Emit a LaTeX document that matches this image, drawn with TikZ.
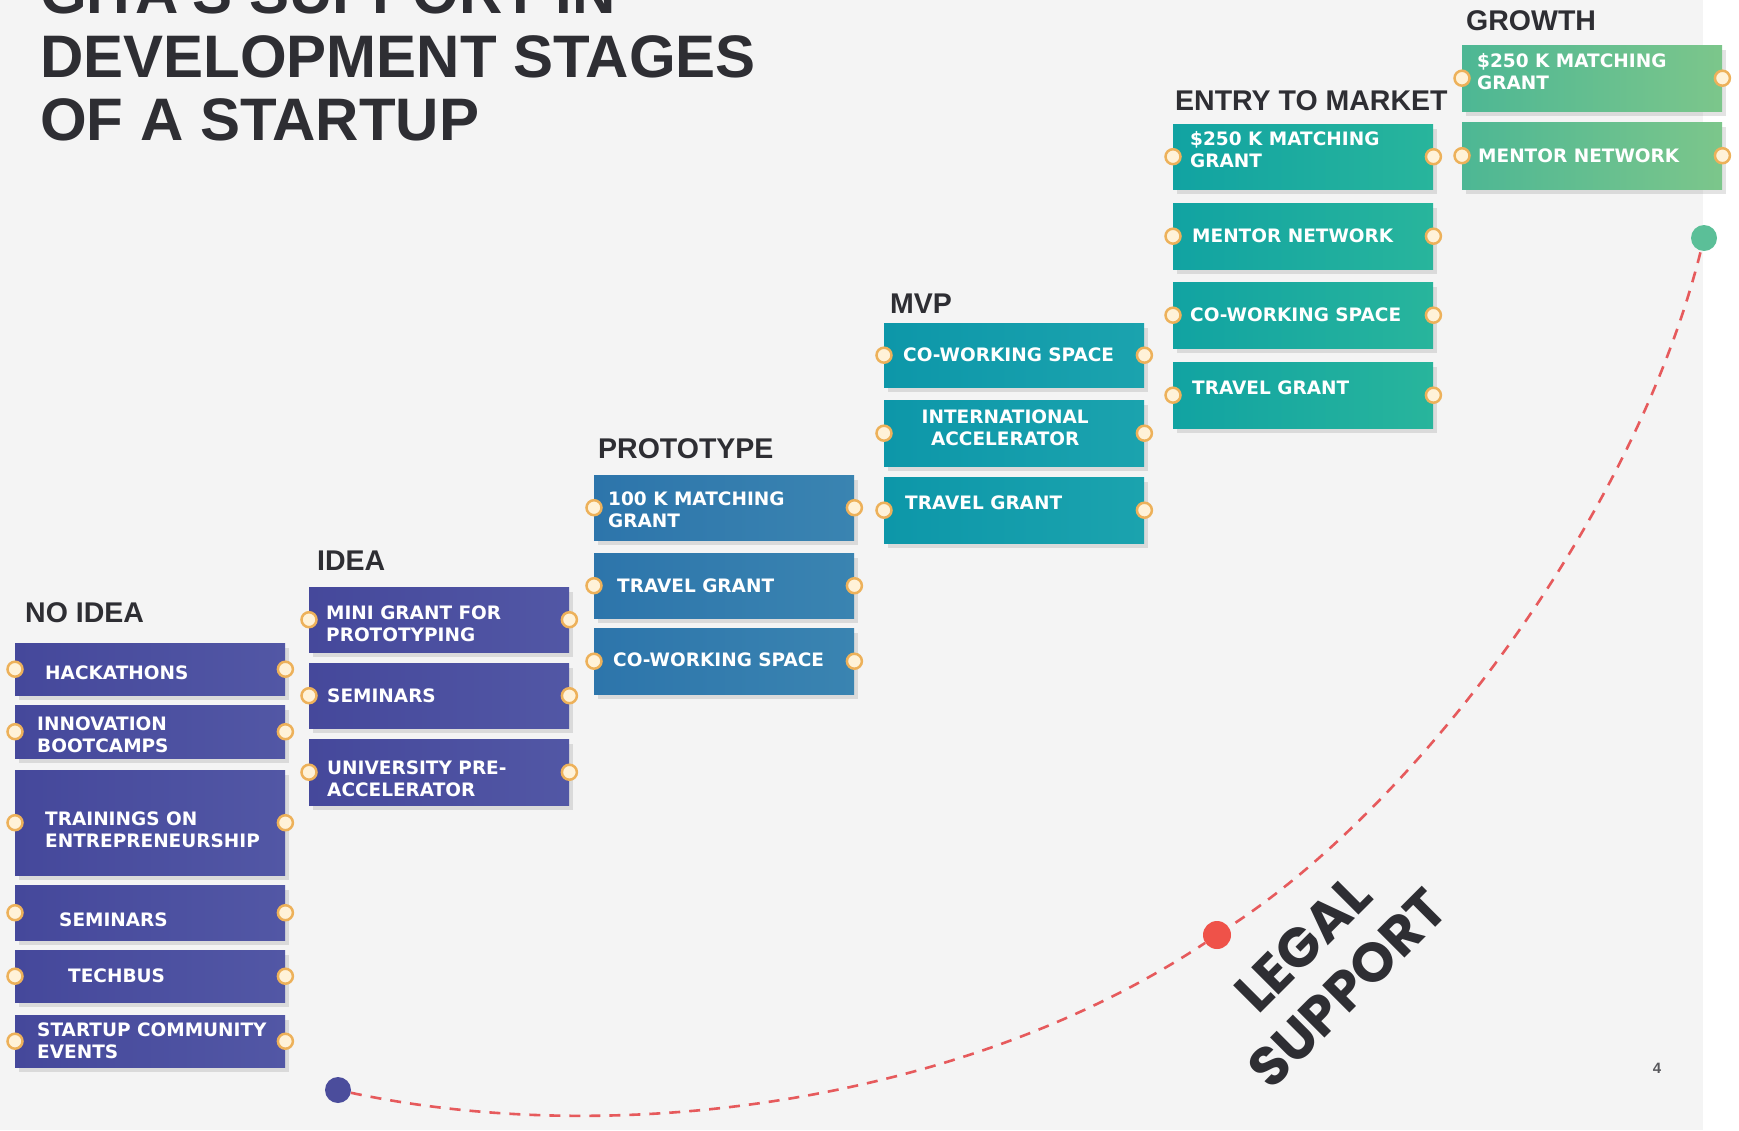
\documentclass[tikz,border=0pt]{standalone}
\usepackage{fontspec}
\setmainfont{Liberation Sans}
\newfontfamily\boxfont{DejaVu Sans}
\newfontfamily\legalfont{Poppins}
\usetikzlibrary{positioning,shadows}
\definecolor{ink}{HTML}{2E2E33}
\definecolor{paper}{HTML}{F4F4F4}
\definecolor{purpleL}{HTML}{45489B}
\definecolor{purpleR}{HTML}{5257A5}
\definecolor{protoL}{HTML}{2D75AB}
\definecolor{protoR}{HTML}{3A84B1}
\definecolor{mvpL}{HTML}{0D97A9}
\definecolor{mvpR}{HTML}{1BA3AE}
\definecolor{entryL}{HTML}{11A3A2}
\definecolor{entryR}{HTML}{28B59C}
\definecolor{growL}{HTML}{4DB794}
\definecolor{growR}{HTML}{7CC68B}
\definecolor{plugfill}{HTML}{FFF2D8}
\definecolor{plugring}{HTML}{EDB15A}
\definecolor{dotblue}{HTML}{4B4D9C}
\definecolor{dotred}{HTML}{EF5249}
\definecolor{dotgreen}{HTML}{5BBF98}
\definecolor{dashred}{HTML}{E65A5C}

\begin{document}
\begin{tikzpicture}[x=1pt,y=-1pt,
  box/.style={anchor=north west,minimum width=260pt,inner sep=0pt,
    drop shadow={shadow xshift=4pt,shadow yshift=-5pt,opacity=.22}},
  purple box/.style={box,left color=purpleL,right color=purpleR},
  proto box/.style={box,left color=protoL,right color=protoR},
  mvp box/.style={box,left color=mvpL,right color=mvpR},
  entry box/.style={box,left color=entryL,right color=entryR},
  grow box/.style={box,left color=growL,right color=growR},
  txt/.style={font=\boxfont\bfseries\fontsize{18.5}{22}\selectfont,text=white,align=left,inner sep=0pt},
  plug/.style={circle,minimum size=15pt,inner sep=0pt,fill=plugfill,draw=plugring,line width=2.5pt},
  stage/.style={anchor=base west,font=\bfseries\fontsize{28.5}{30}\selectfont,text=ink,inner sep=0pt},
  title/.style={anchor=base west,font=\bfseries\fontsize{60}{64}\selectfont,text=ink,inner sep=0pt},
  dot/.style={circle,inner sep=0pt,minimum size=26pt},
  path line/.style={draw=dashred,line width=2.6pt,dash pattern=on 11pt off 9pt,shorten <=8pt}]

  \useasboundingbox (0,0) rectangle (1739,1130);
  \fill[paper] (0,0) rectangle (1703,1130);

  \node[title] (title1) at (40,13) {GITA’S SUPPORT IN};
  \node[title] (title2) at (40,77) {DEVELOPMENT STAGES};
  \node[title] (title3) at (40,140) {OF A STARTUP};

  % no idea
  \node[stage] (noidea) at (25,622) {NO IDEA};
  \node[purple box,minimum width=270pt,minimum height=52pt] (ni1) at (15,643) {};
  \node[purple box,minimum width=270pt,minimum height=53pt] (ni2) at (15,705) {};
  \node[purple box,minimum width=270pt,minimum height=105pt] (ni3) at (15,770) {};
  \node[purple box,minimum width=270pt,minimum height=55pt] (ni4) at (15,885) {};
  \node[purple box,minimum width=270pt,minimum height=52pt] (ni5) at (15,950) {};
  \node[purple box,minimum width=270pt,minimum height=52pt] (ni6) at (15,1015) {};
  \node[txt,right=30pt of ni1.west,yshift=-4pt] (ni1t) {HACKATHONS};
  \node[txt,right=22pt of ni2.west,yshift=-3pt] (ni2t) {INNOVATION\\BOOTCAMPS};
  \node[txt,right=30pt of ni3.west,yshift=-7pt] (ni3t) {TRAININGS ON\\ENTREPRENEURSHIP};
  \node[txt,right=44pt of ni4.west,yshift=-7pt] (ni4t) {SEMINARS};
  \node[txt,right=53pt of ni5.west] (ni5t) {TECHBUS};
  \node[txt,right=22pt of ni6.west] (ni6t) {STARTUP COMMUNITY\\EVENTS};

  % idea
  \node[stage] (idea) at (317,570) {IDEA};
  \node[purple box,minimum height=65pt] (id1) at (309,587) {};
  \node[purple box,minimum height=65pt] (id2) at (309,663) {};
  \node[purple box,minimum height=66pt] (id3) at (309,739) {};
  \node[txt,right=17pt of id1.west,yshift=-4pt] (id1t) {MINI GRANT FOR\\PROTOTYPING};
  \node[txt,right=18pt of id2.west] (id2t) {SEMINARS};
  \node[txt,right=18pt of id3.west,yshift=-7pt] (id3t) {UNIVERSITY PRE-\\ACCELERATOR};

  % prototype
  \node[stage] (proto) at (598,458) {PROTOTYPE};
  \node[proto box,minimum height=65pt] (pr1) at (594,475) {};
  \node[proto box,minimum height=65pt] (pr2) at (594,553) {};
  \node[proto box,minimum height=66pt] (pr3) at (594,628) {};
  \node[txt,right=14pt of pr1.west,yshift=-2pt] (pr1t) {100 K MATCHING\\GRANT};
  \node[txt,right=23pt of pr2.west] (pr2t) {TRAVEL GRANT};
  \node[txt,right=19pt of pr3.west,yshift=1.5pt] (pr3t) {CO-WORKING SPACE};

  % mvp
  \node[stage] (mvp) at (890,313) {MVP};
  \node[mvp box,minimum height=64pt] (mv1) at (884,323) {};
  \node[mvp box,minimum height=66pt] (mv2) at (884,400) {};
  \node[mvp box,minimum height=66pt] (mv3) at (884,477) {};
  \node[txt,right=19pt of mv1.west] (mv1t) {CO-WORKING SPACE};
  \node[txt,align=center,xshift=-9pt,yshift=5pt] (mv2t) at (mv2.center) {INTERNATIONAL\\ACCELERATOR};
  \node[txt,right=21pt of mv3.west,yshift=7.5pt] (mv3t) {TRAVEL GRANT};

  % entry to market
  \node[stage] (entry) at (1175,110) {ENTRY TO MARKET};
  \node[entry box,minimum height=65pt] (em1) at (1173,124) {};
  \node[entry box,minimum height=66pt] (em2) at (1173,203) {};
  \node[entry box,minimum height=66pt] (em3) at (1173,282) {};
  \node[entry box,minimum height=66pt] (em4) at (1173,362) {};
  \node[txt,right=17pt of em1.west,yshift=7pt] (em1t) {\$250 K MATCHING\\GRANT};
  \node[txt,right=19pt of em2.west] (em2t) {MENTOR NETWORK};
  \node[txt,right=17pt of em3.west] (em3t) {CO-WORKING SPACE};
  \node[txt,right=19pt of em4.west,yshift=7.5pt] (em4t) {TRAVEL GRANT};

  % growth
  \node[stage] (growth) at (1466,30) {GROWTH};
  \node[grow box,minimum height=66pt] (gr1) at (1462,45) {};
  \node[grow box,minimum height=67pt] (gr2) at (1462,122) {};
  \node[txt,right=15pt of gr1.west,yshift=6.5pt] (gr1t) {\$250 K MATCHING\\GRANT};
  \node[txt,right=16pt of gr2.west] (gr2t) {MENTOR NETWORK};

  \foreach \b in {ni1,ni2,ni3,ni4,ni5,ni6,id1,id2,id3,pr1,pr2,pr3,mv1,mv2,mv3,em1,em2,em3,em4,gr1,gr2}{
    \node[plug] (\b-in) at (\b.west) {};
    \node[plug] (\b-out) at (\b.east) {};
  }

  % legal support line
  \node[dot,fill=dotblue] (startdot) at (338,1090) {};
  \node[dot,fill=dotred,minimum size=28pt] (legaldot) at (1217,935) {};
  \node[dot,fill=dotgreen] (growdot) at (1704,238) {};
  \draw[path line] (startdot) .. controls (620,1150) and (967,1101) .. (legaldot)
    .. controls (1417,802) and (1634,518) .. (growdot);

  \node[rotate=45,align=center,inner sep=0pt,text=ink,font=\legalfont\bfseries\fontsize{55}{63}\selectfont] (legal) at (1325,966) {LEGAL\\SUPPORT};
  \node[font=\bfseries\fontsize{15}{15}\selectfont,text=ink!80,inner sep=0pt] (pagenum) at (1657,1068) {4};
\end{tikzpicture}
\end{document}
